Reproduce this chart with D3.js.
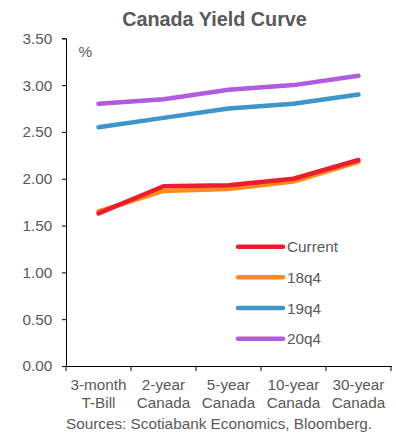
<!DOCTYPE html>
<html><head><meta charset="utf-8">
<script src="https://cdn.jsdelivr.net/npm/d3@7"></script>
<style>body{margin:0;background:#fff}svg{display:block;font-family:Arial,"Liberation Sans",sans-serif}</style>
</head><body><svg id="c" width="396" height="432"></svg>
<script>
const categories = [["3-month","T-Bill"],["2-year","Canada"],["5-year","Canada"],["10-year","Canada"],["30-year","Canada"]];
const seriesNames = ["Current","18q4","19q4","20q4"];
const seriesColors = ["#ED1C2E","#FF8C1A","#3D95C9","#B15BE0"];
const current = [1.63,1.92,1.93,2.00,2.20];
const q18 = [1.65,1.87,1.89,1.97,2.18];
const q19 = [2.55,2.65,2.75,2.80,2.90];
const q20 = [2.80,2.85,2.95,3.00,3.10];
const yTicks = [0,0.5,1,1.5,2,2.5,3,3.5];
const seriesValues = [current,q18,q19,q20];
const drawOrder = [3,2,1,0];

const svg = d3.select("#c");
const grey = "#595959";
const fs = 15.3;
const x = d3.scaleBand().domain(d3.range(categories.length)).range([66,391]);
const y = d3.scaleLinear().domain([0,3.5]).range([366,38.3]);

svg.append("text").attr("x",214.5).attr("y",26).attr("text-anchor","middle")
  .attr("font-size",19.8).attr("font-weight","bold").attr("fill",grey).text("Canada Yield Curve");

const ya = svg.append("g").attr("transform","translate(66,0)")
  .call(d3.axisLeft(y).tickValues(yTicks).tickFormat(d3.format(".2f")).tickSizeOuter(0).tickSize(4));
ya.select(".domain").attr("stroke","#000");
ya.selectAll(".tick line").attr("stroke","#000");
ya.selectAll(".tick text").attr("font-size",fs).attr("fill",grey).attr("x",-13.7).attr("font-family","Arial,'Liberation Sans',sans-serif");

const xa = svg.append("g").attr("transform","translate(0,366)")
  .call(d3.axisBottom(x).tickSize(0).tickFormat(""));
xa.select(".domain").attr("stroke","#000");
const bounds = d3.range(categories.length+1).map(i=> i<categories.length ? x(i) : x(categories.length-1)+x.bandwidth());
xa.selectAll(".bt").data(bounds).enter().append("line")
  .attr("x1",d=>d).attr("x2",d=>d).attr("y1",0).attr("y2",5).attr("stroke","#000");

categories.forEach((c,i)=>{
  const cx = x(i)+x.bandwidth()/2;
  const t = svg.append("text").attr("x",cx).attr("text-anchor","middle")
    .attr("font-size",fs).attr("fill",grey);
  t.append("tspan").attr("x",cx).attr("y",389.5).text(c[0]);
  t.append("tspan").attr("x",cx).attr("y",407.5).text(c[1]);
});

svg.append("text").attr("x",78.5).attr("y",57).attr("font-size",fs).attr("fill",grey).text("%");

const line = d3.line().x((d,i)=>x(i)+x.bandwidth()/2).y(d=>y(d));
drawOrder.forEach(s=>{
  svg.append("path").datum(seriesValues[s]).attr("d",line).attr("fill","none")
    .attr("stroke",seriesColors[s]).attr("stroke-width",4.5).attr("stroke-linecap","round").attr("stroke-linejoin","round");
});

const ly = d3.scaleLinear().domain([0,3]).range([246.7,338.7]);
seriesNames.forEach((n,i)=>{
  svg.append("line").attr("x1",238).attr("x2",283).attr("y1",ly(i)).attr("y2",ly(i))
    .attr("stroke",seriesColors[i]).attr("stroke-width",4.5).attr("stroke-linecap","round");
  svg.append("text").attr("x",287).attr("y",ly(i)+5.5).attr("font-size",fs).attr("fill",grey).text(n);
});

svg.append("text").attr("x",66).attr("y",429).attr("font-size",fs).attr("fill",grey)
  .text("Sources: Scotiabank Economics, Bloomberg.");
</script></body></html>
